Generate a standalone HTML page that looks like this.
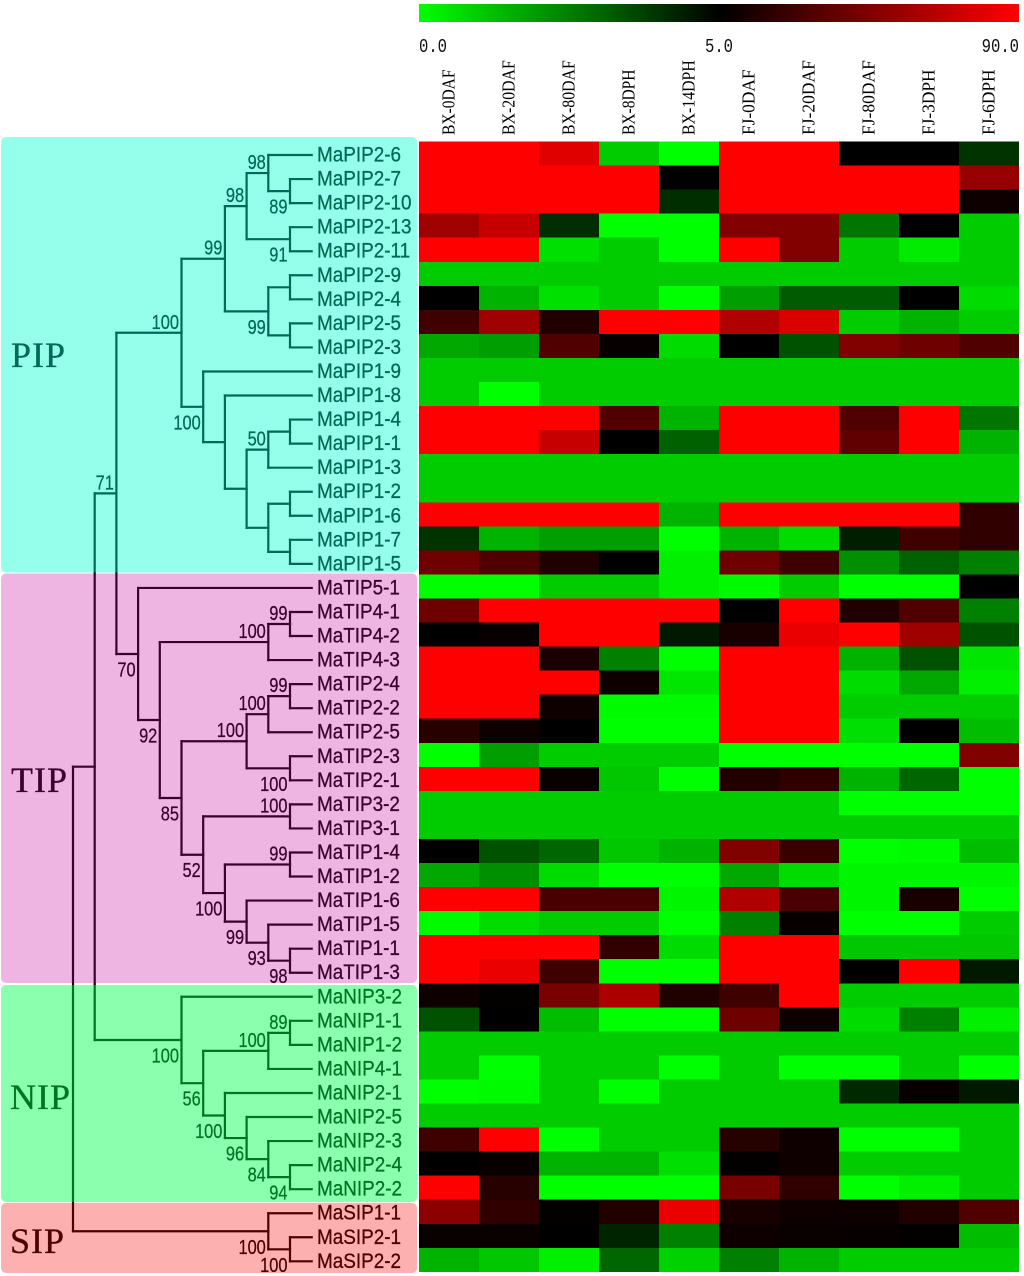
<!DOCTYPE html>
<html>
<head>
<meta charset="utf-8">
<title>Aquaporin expression heatmap</title>
<style>
html,body{margin:0;padding:0;background:#fff;}
svg{display:block;}
.leaf{font-family:"Liberation Sans",sans-serif;font-size:21px;fill:#000;stroke:#000;stroke-width:0.3px;}
.support{font-family:"Liberation Sans",sans-serif;font-size:20px;fill:#000;stroke:#000;stroke-width:0.25px;}
.group{font-family:"Liberation Serif",serif;font-size:36px;letter-spacing:1px;fill:#000;stroke:#000;stroke-width:0.3px;}
.tick{font-family:"Liberation Mono",monospace;font-size:19px;fill:#111;}
.sample{font-family:"Liberation Serif",serif;font-size:18px;fill:#000;}
</style>
</head>
<body>
<svg id="chart" xmlns="http://www.w3.org/2000/svg" width="1024" height="1276" viewBox="0 0 1024 1276">
  <defs>
    <linearGradient id="scaleGrad" x1="0" x2="1" y1="0" y2="0">
      <stop offset="0" stop-color="#00ff00"/>
      <stop offset="0.5" stop-color="#000000"/>
      <stop offset="1" stop-color="#ff0000"/>
    </linearGradient>
  </defs>
  <g id="gCells" shape-rendering="crispEdges"></g>
  <rect x="419" y="4" width="600" height="18" fill="url(#scaleGrad)"/>
  <g id="gTicks"></g>
  <g id="gSamples"></g>
  <g id="gTree" fill="none" stroke="#000" stroke-width="2.2" stroke-linecap="square"></g>
  <g id="gLeaves"></g>
  <g id="gSupport"></g>
  <text class="group" x="11" y="367">PIP</text>
  <text class="group" x="11" y="792">TIP</text>
  <text class="group" x="10" y="1109">NIP</text>
  <text class="group" x="10" y="1253">SIP</text>
  <rect x="1" y="137" width="416" height="435.5" rx="5" fill="rgb(0,255,210)" fill-opacity="0.41"/>
  <rect x="1" y="573.5" width="416" height="409.5" rx="5" fill="rgb(197,0,156)" fill-opacity="0.294"/>
  <rect x="1" y="985" width="416" height="217" rx="5" fill="rgb(0,255,75)" fill-opacity="0.45"/>
  <rect x="1" y="1203" width="416" height="70" rx="5" fill="rgb(250,0,0)" fill-opacity="0.31"/>
</svg>
<script>
const samples = ["BX-0DAF","BX-20DAF","BX-80DAF","BX-8DPH","BX-14DPH","FJ-0DAF","FJ-20DAF","FJ-80DAF","FJ-3DPH","FJ-6DPH"];
const scaleTicks = [0, 5, 90];
const scaleTickLabels = ["0.0", "5.0", "90.0"];
const genes = [
 "MaPIP2-6","MaPIP2-7","MaPIP2-10","MaPIP2-13","MaPIP2-11","MaPIP2-9","MaPIP2-4","MaPIP2-5","MaPIP2-3",
 "MaPIP1-9","MaPIP1-8","MaPIP1-4","MaPIP1-1","MaPIP1-3","MaPIP1-2","MaPIP1-6","MaPIP1-7","MaPIP1-5",
 "MaTIP5-1","MaTIP4-1","MaTIP4-2","MaTIP4-3","MaTIP2-4","MaTIP2-2","MaTIP2-5","MaTIP2-3","MaTIP2-1",
 "MaTIP3-2","MaTIP3-1","MaTIP1-4","MaTIP1-2","MaTIP1-6","MaTIP1-5","MaTIP1-1","MaTIP1-3",
 "MaNIP3-2","MaNIP1-1","MaNIP1-2","MaNIP4-1","MaNIP2-1","MaNIP2-5","MaNIP2-3","MaNIP2-4","MaNIP2-2",
 "MaSIP1-1","MaSIP2-1","MaSIP2-2"
];
const expression = [
 [90,90,80,1,0,90,90,5,5,4],
 [90,90,90,90,5,90,90,90,90,55],
 [90,90,90,90,4.1,90,90,90,90,10],
 [58,71,4.1,0,0,48,48,2.7,5,1],
 [90,90,0.6,1,0,90,48,1,0.4,1],
 [1,1,1,1,1,1,1,1,1,1],
 [5,1.5,0.6,1,0,1.9,3.2,3.2,5,0.7],
 [26,58,16,90,90,64,78,1,1.5,1],
 [1.7,1.9,32,7,0.7,5,3.4,48,42,32],
 [1,1,1,1,1,1,1,1,1,1],
 [1,0,1,1,1,1,1,1,1,1],
 [90,90,90,32,1.5,90,90,32,90,2.7],
 [90,90,71,5,3.1,90,90,37,90,1.5],
 [1,1,1,1,1,1,1,1,1,1],
 [1,1,1,1,1,1,1,1,1,1],
 [90,90,90,90,1.5,90,90,90,90,21],
 [4,1.5,1.9,1.9,0,1.5,0.7,4.4,26,21],
 [42,32,16,5,0.3,42,26,2.2,3.1,2.5],
 [0,0,1,1,0.3,0.1,1,0,0,5],
 [42,90,90,90,90,5,90,16,32,2.5],
 [5,7.6,90,90,4.5,13,83,90,58,3.4],
 [90,90,14,2.5,0,90,90,1.5,3.4,0.5],
 [90,90,90,10,0.5,90,90,0.7,1.7,0.3],
 [90,90,10,0.1,0.1,90,90,1,1,1],
 [18,10,5,0,0,90,90,0.6,5,1.3],
 [0,1.9,1,1,1,0,0,0,0,48],
 [90,90,8,1.1,0,16,21,1.5,3,0],
 [1,1,1,1,1,1,1,0,0,0],
 [1,1,1,1,1,1,1,1,1,1],
 [5,3.4,3,1.1,1.5,48,24,0,0.1,1.3],
 [1.7,2.2,0.7,0,0,1.7,0.7,0.2,0.2,0.2],
 [90,90,29,29,0.2,64,29,0.2,13,0],
 [0.1,0.7,1,1,0,2.5,7.6,0,0,1],
 [90,90,90,21,0.7,90,90,1.1,1.1,1.1],
 [90,83,26,0,0,90,90,5,90,4.5],
 [10,6,45,62,16,26,90,1,1,1],
 [3.4,5,1.3,0,0,42,10,0.7,2.5,0.3],
 [1,1,1,1,1,1,1,1,1,1],
 [1,0,1,1,0,1,0,0,1,0],
 [0,0.1,1,0,1,1,1,4.2,7.6,4.5],
 [1,1,1,1,1,1,1,1,1,1],
 [26,90,0,1,1,18,10,0,0,1],
 [5,7.6,1.5,1.5,0.6,6,10,1,1,1],
 [90,18,0,0,0,45,21,0,0.3,1],
 [52,21,6,16,83,13,10,10,16,32],
 [8,8,5,4.3,2.5,10,8,7,6,1.3],
 [1.5,1.1,0.3,3,0.9,2.5,1.5,1,1,1]
];
function n(depth, support, side) { return {depth, support, side, kids: Array.prototype.slice.call(arguments, 3)}; }
const tree =
 n(0,"","",
  n(1,"","",
   n(2,"71","a",
    n(5,"100","a",
     n(7,"99","a",
      n(8,"98","a",
       n(9,"98","a","MaPIP2-6",n(10,"89","b","MaPIP2-7","MaPIP2-10")),
       n(10,"91","b","MaPIP2-13","MaPIP2-11")),
      n(9,"99","b",
       n(10,"","","MaPIP2-9","MaPIP2-4"),
       n(10,"","","MaPIP2-5","MaPIP2-3"))),
     n(6,"100","b","MaPIP1-9",
      n(7,"","","MaPIP1-8",
       n(8,"","",
        n(9,"50","a",n(10,"","","MaPIP1-4","MaPIP1-1"),"MaPIP1-3"),
        n(9,"","",n(10,"","","MaPIP1-2","MaPIP1-6"),n(10,"","","MaPIP1-7","MaPIP1-5")))))),
    n(3,"70","b","MaTIP5-1",
     n(4,"92","b",
      n(9,"100","a",n(10,"99","a","MaTIP4-1","MaTIP4-2"),"MaTIP4-3"),
      n(5,"85","b",
       n(8,"100","a",
        n(9,"100","a",n(10,"99","a","MaTIP2-4","MaTIP2-2"),"MaTIP2-5"),
        n(10,"100","b","MaTIP2-3","MaTIP2-1")),
       n(6,"52","b",
        n(10,"100","a","MaTIP3-2","MaTIP3-1"),
        n(7,"100","b",
         n(10,"99","a","MaTIP1-4","MaTIP1-2"),
         n(8,"99","b","MaTIP1-6",
          n(9,"93","b","MaTIP1-5",n(10,"98","b","MaTIP1-1","MaTIP1-3"))))))))),
   n(5,"100","b","MaNIP3-2",
    n(6,"56","b",
     n(9,"100","a",n(10,"89","a","MaNIP1-1","MaNIP1-2"),"MaNIP4-1"),
     n(7,"100","b","MaNIP2-1",
      n(8,"96","b","MaNIP2-5",
       n(9,"84","b","MaNIP2-3",n(10,"94","b","MaNIP2-4","MaNIP2-2"))))))),
  n(9,"100","b","MaSIP1-1",n(10,"100","b","MaSIP2-1","MaSIP2-2")));

const SVG_NS = "http://www.w3.org/2000/svg";
const heatLeft = 419, heatTop = 141.5, colW = 60, rowH = 24.05;
const xCol = i => heatLeft + i * colW;
const yRow = i => heatTop + i * rowH;
const xDepth = d => 73 + d * 21.7;
const LEAF_DEPTH = 11;
function color(v) {
  if (v <= 5) return "rgb(0," + Math.round(255 * (1 - v / 5)) + ",0)";
  return "rgb(" + Math.round(255 * (v - 5) / 85) + ",0,0)";
}
function xBar(v) { return v <= 5 ? 419 + 300 * v / 5 : 719 + 300 * (v - 5) / 85; }
function mk(tag, parent) { const e = document.createElementNS(SVG_NS, tag); parent.appendChild(e); return e; }

const gCells = document.getElementById("gCells");
expression.forEach((row, r) => row.forEach((v, c) => {
  const el = mk("rect", gCells);
  
  
  el.setAttribute("x", xCol(c));
  el.setAttribute("y", yRow(r).toFixed(2));
  el.setAttribute("width", colW);
  el.setAttribute("height", (rowH + 0.3).toFixed(2));
  el.setAttribute("fill", color(v));
}));

const gTicks = document.getElementById("gTicks");
scaleTicks.forEach((t, i) => {
  const el = mk("text", gTicks);
  
  
  el.setAttribute("class", "tick");
  el.setAttribute("text-anchor", i === 0 ? "start" : i === scaleTicks.length - 1 ? "end" : "middle");
  el.setAttribute("transform", "translate(" + xBar(t) + ",52) scale(0.82,1)");
  el.textContent = scaleTickLabels[i];
});

const gSamples = document.getElementById("gSamples");
samples.forEach((s, i) => {
  const el = mk("text", gSamples);
  
  
  el.setAttribute("class", "sample");
  el.setAttribute("transform", "translate(" + (xCol(i) + colW / 2 + 5.5) + ",135) rotate(-90)");
  el.setAttribute("textLength", (s.length * 9.35).toFixed(1));
  el.setAttribute("lengthAdjust", "spacingAndGlyphs");
  el.textContent = s;
});

const gTree = document.getElementById("gTree");
const gLeaves = document.getElementById("gLeaves");
const gSupport = document.getElementById("gSupport");
function segment(x1, y1, x2, y2) {
  const el = mk("line", gTree);
  
  
  el.setAttribute("x1", x1); el.setAttribute("y1", y1);
  el.setAttribute("x2", x2); el.setAttribute("y2", y2);
}
function layout(node) {
  if (typeof node === "string") {
    const y = yRow(genes.indexOf(node)) + rowH / 2 + 1.5;
    const el = mk("text", gLeaves);
    
    
    el.setAttribute("class", "leaf");
    el.setAttribute("transform", "translate(317," + (y + 6.5).toFixed(1) + ") scale(0.9,1)");
    el.textContent = node;
    return {y: y, x: xDepth(LEAF_DEPTH)};
  }
  const x = xDepth(node.depth);
  const placed = node.kids.map(layout);
  const y = (placed[0].y + placed[placed.length - 1].y) / 2;
  segment(x, placed[0].y, x, placed[placed.length - 1].y);
  placed.forEach(p => segment(x, p.y, p.x, p.y));
  if (node.support) {
    const el = mk("text", gSupport);
    
    
    el.setAttribute("class", "support");
    el.setAttribute("text-anchor", "end");
    const by = node.side === "a" ? y - 4 : y + 22.5;
    el.setAttribute("transform", "translate(" + (x - 2.5) + "," + by.toFixed(1) + ") scale(0.82,1)");
    el.textContent = node.support;
  }
  return {y: y, x: x};
}
layout(tree);
</script>
</body>
</html>
